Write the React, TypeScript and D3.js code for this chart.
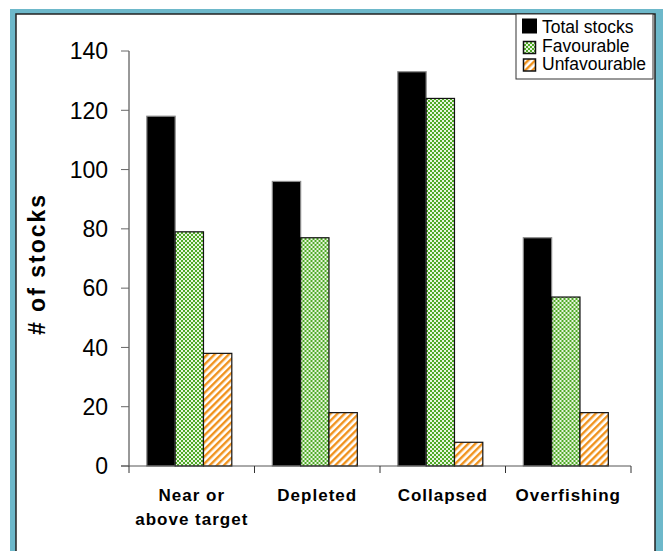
import React from "react";
import * as d3 from "d3";

const categories: string[][] = [["Near or", "above target"], ["Depleted"], ["Collapsed"], ["Overfishing"]];
const seriesNames = ["Total stocks", "Favourable", "Unfavourable"];
const totalStocks = [118, 96, 133, 77];
const favourable = [79, 77, 124, 57];
const unfavourable = [38, 18, 8, 18];
const yTicks = [0, 20, 40, 60, 80, 100, 120, 140];

const W = 663;
const H = 551;
const FONT = "'Liberation Sans', Arial, sans-serif";
const TEAL = "#6DB8CA";
const GREEN = "#4FAA26";
const ORANGE = "#F0921C";

export default function App() {
  const catKeys = categories.map((c) => c.join(" "));
  const x0 = d3.scaleBand<string>().domain(catKeys).range([129, 631]).paddingInner(0).paddingOuter(0);
  const x1 = d3
    .scaleBand<string>()
    .domain(seriesNames)
    .range([0, x0.bandwidth()])
    .paddingInner(0)
    .paddingOuter(0.715)
    .align(0.44);
  const y = d3.scaleLinear().domain([0, 140]).range([466, 51]);
  const seriesData = [totalStocks, favourable, unfavourable];
  const fills = ["#000000", "url(#checker)", "url(#stripes)"];
  const strokes = ["#8a8a8a", "#111", "#111"];

  return (
    <div style={{ position: "fixed", left: 0, top: 0 }}>
      <svg width={W} height={H} style={{ display: "block" }}>
        <defs>
          <pattern id="checker" patternUnits="userSpaceOnUse" width={4} height={4}>
            <rect x={0} y={0} width={4} height={4} fill="#e8f5e0" />
            <rect x={0} y={0} width={2} height={2} fill={GREEN} />
            <rect x={2} y={2} width={2} height={2} fill={GREEN} />
          </pattern>
          <pattern id="stripes" patternUnits="userSpaceOnUse" width={5} height={5} patternTransform="rotate(45)">
            <rect x={0} y={0} width={5} height={5} fill="#ffffff" />
            <rect x={0} y={0} width={2.4} height={5} fill={ORANGE} />
          </pattern>
        </defs>
        <rect x={0} y={0} width={W} height={H} fill="#ffffff" />
        {/* frame */}
        <rect x={10} y={9} width={653} height={560} fill={TEAL} />
        <rect x={16} y={14} width={639} height={560} fill="#ffffff" stroke="#222" strokeWidth={1.5} />

        {/* y axis */}
        <line x1={129} x2={129} y1={y(140)} y2={y(0)} stroke="#333" strokeWidth={1} />
        {yTicks.map((t) => (
          <g key={t}>
            <line x1={121} x2={129} y1={y(t)} y2={y(t)} stroke="#666" strokeWidth={1} />
            <text x={108} y={y(t)} dy="0.36em" textAnchor="end" fontFamily={FONT} fontSize={23} fill="#000">
              {t}
            </text>
          </g>
        ))}

        {/* bars */}
        {catKeys.map((c, ci) => (
          <g key={c} transform={`translate(${x0(c)},0)`}>
            {seriesNames.map((s, si) => {
              const v = seriesData[si][ci];
              return (
                <rect
                  key={s}
                  x={x1(s)}
                  y={y(v)}
                  width={x1.bandwidth()}
                  height={y(0) - y(v)}
                  fill={fills[si]}
                  stroke={strokes[si]}
                  strokeWidth={1.2}
                />
              );
            })}
          </g>
        ))}

        {/* x axis */}
        <line x1={121} x2={631} y1={y(0)} y2={y(0)} stroke="#555" strokeWidth={1} />
        {[...catKeys.map((c) => x0(c) as number), 631].map((xv, i) => (
          <line key={i} x1={xv} x2={xv} y1={y(0)} y2={y(0) + 7} stroke="#333" strokeWidth={1} />
        ))}
        {categories.map((lines, ci) => (
          <text
            key={ci}
            textAnchor="middle"
            fontFamily={FONT}
            fontWeight="bold"
            fontSize={17}
            letterSpacing={1}
            fill="#000"
          >
            {lines.map((ln, li) => (
              <tspan key={li} x={(x0(catKeys[ci]) as number) + x0.bandwidth() / 2} y={501 + li * 24}>
                {ln}
              </tspan>
            ))}
          </text>
        ))}

        {/* y title */}
        <text
          transform="translate(45,264) rotate(-90)"
          textAnchor="middle"
          fontFamily={FONT}
          fontWeight="bold"
          fontSize={23}
          letterSpacing={2}
          fill="#000"
        >
          # of stocks
        </text>

        {/* legend */}
        <rect x={516} y={14} width={137} height={65} fill="#ffffff" stroke="#333" strokeWidth={1} />
        <rect x={522} y={18.5} width={15} height={15} fill="#000" />
        <rect x={523.5} y={41.5} width={12} height={12} fill="url(#checker)" stroke="#111" strokeWidth={1.5} />
        <rect x={523.5} y={59} width={12} height={12} fill="url(#stripes)" stroke="#111" strokeWidth={1.5} />
        {seriesNames.map((s, i) => (
          <text key={s} x={542} y={33.3 + i * 18.5} fontFamily={FONT} fontSize={17.5} fill="#000">
            {s}
          </text>
        ))}
      </svg>
    </div>
  );
}
